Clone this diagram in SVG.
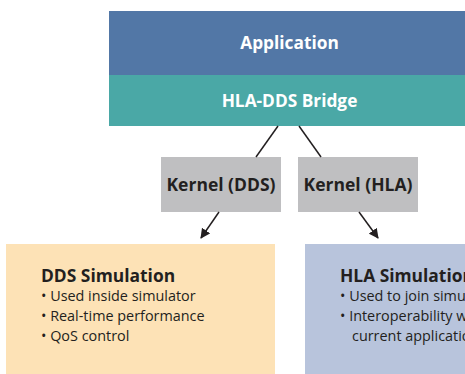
<svg xmlns="http://www.w3.org/2000/svg" width="465" height="374" viewBox="0 0 465 374">
<defs>
<style>
.hd{font-family:"Open Sans","Noto Sans",sans-serif;font-weight:700;font-size:17.3px;fill:#ffffff;text-anchor:middle}
.kn{font-family:"Open Sans","Noto Sans",sans-serif;font-weight:700;font-size:17.5px;fill:#231f20;text-anchor:middle}
.tt{font-family:"Open Sans","Noto Sans",sans-serif;font-weight:700;font-size:17.4px;fill:#231f20}
.bl{font-family:"Open Sans","Noto Sans",sans-serif;font-weight:400;font-size:14.4px;fill:#231f20}
.ln{stroke:#231f20;stroke-width:1.5;fill:none}
</style>
<marker id="ah" viewBox="0 0 10 10" refX="9" refY="5" markerWidth="10" markerHeight="10" markerUnits="userSpaceOnUse" orient="auto">
<path d="M0,0 L10,5 L0,10 z" fill="#231f20"/>
</marker>
</defs>
<rect width="465" height="374" fill="#ffffff"/>
<g id="application">
<rect x="109" y="11" width="356" height="64" fill="#5277a6"/>
<text class="hd" x="289.5" y="49">Application</text>
</g>
<g id="bridge">
<rect x="109" y="75" width="356" height="51" fill="#4aa8a6"/>
<text class="hd" x="289.5" y="107">HLA-DDS Bridge</text>
</g>
<g id="kernel-dds">
<rect x="161" y="157" width="120" height="55" fill="#bfbfc1"/>
<text class="kn" x="221" y="191">Kernel (DDS)</text>
</g>
<g id="kernel-hla">
<rect x="298" y="157" width="120" height="55" fill="#bfbfc1"/>
<text class="kn" x="358" y="191">Kernel (HLA)</text>
</g>
<g id="dds-sim">
<rect x="6" y="244" width="269" height="130" fill="#fde2b6"/>
<text class="tt" x="41" y="282">DDS Simulation</text>
<text class="bl" x="41" y="301">• Used inside simulator</text>
<text class="bl" x="41" y="321">• Real-time performance</text>
<text class="bl" x="41" y="341">• QoS control</text>
</g>
<g id="hla-sim">
<rect x="305" y="244" width="160" height="130" fill="#b8c4dc"/>
<text class="tt" x="340" y="282">HLA Simulation</text>
<text class="bl" x="340" y="301">• Used to join simulators</text>
<text class="bl" x="340" y="321">• Interoperability with</text>
<text class="bl" x="352" y="341">current applications</text>
</g>
<g id="connectors">
<line class="ln" x1="278" y1="126" x2="256" y2="157"/>
<line class="ln" x1="299" y1="126" x2="321" y2="157"/>
<line class="ln" x1="219" y1="212" x2="201" y2="238" marker-end="url(#ah)"/>
<line class="ln" x1="359" y1="212" x2="378" y2="238" marker-end="url(#ah)"/>
</g>
</svg>
